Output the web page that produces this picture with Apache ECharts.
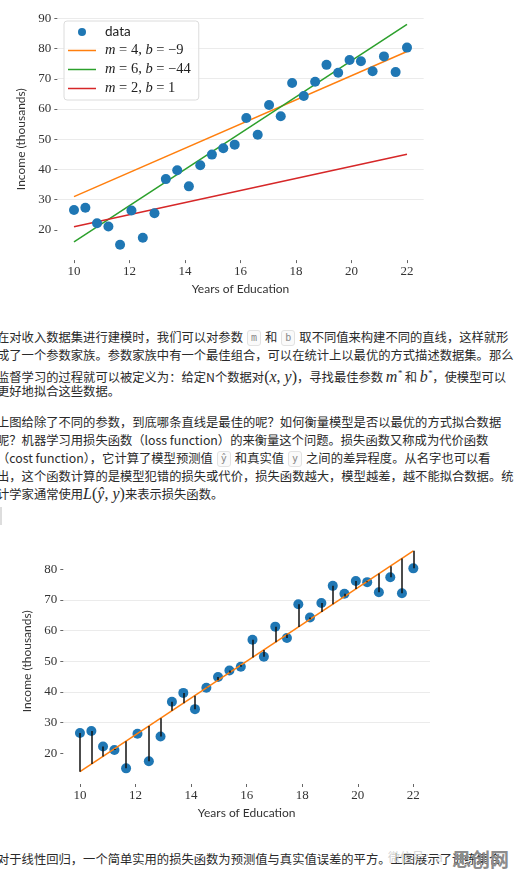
<!DOCTYPE html>
<html>
<head>
<meta charset="utf-8">
<script src="https://cdn.jsdelivr.net/npm/echarts@6/dist/echarts.min.js"></script>
<style>
html,body{margin:0;padding:0;background:#fff;}
body{width:517px;height:876px;overflow:hidden;position:relative;}
#c1{position:absolute;left:0;top:0;width:517px;height:300px;}
#c2{position:absolute;left:0;top:520px;width:517px;height:310px;}
.ln{position:absolute;left:-3px;white-space:nowrap;font-family:"Noto Sans CJK SC";font-size:12.3px;line-height:18px;height:18px;color:#2a2a2a;}
.code{display:inline-block;font-family:"DejaVu Sans Mono";font-size:10px;line-height:14px;color:#888;border:1px solid #e2e2e2;border-radius:3px;background:#fafafa;padding:0 3px;margin:0 4px;vertical-align:1px;}
.m{font-family:"Liberation Serif";font-size:16px;font-style:italic;}
.mu{font-family:"Liberation Serif";font-size:16px;}
sup{font-size:9px;}
#bar{position:absolute;left:0;top:507px;width:2px;height:18px;background:#ddd;}
#wm1{position:absolute;left:388px;top:848px;font-family:"Noto Sans CJK SC";font-size:12px;color:#d2d2d2;}
#wm2{position:absolute;left:452px;top:845px;font-family:"Noto Sans CJK SC";font-size:19px;font-weight:bold;color:#8c8c8c;letter-spacing:0px;}
</style>
</head>
<body>
<div id="c1"></div>

<div class="ln" style="top:328px">在对收入数据集进行建模时，我们可以对参数<span class="code">m</span>和<span class="code">b</span>取不同值来构建不同的直线，这样就形</div>
<div class="ln" style="top:346px">成了一个参数家族。参数家族中有一个最佳组合，可以在统计上以最优的方式描述数据集。那么</div>
<div class="ln" style="top:364px">监督学习的过程就可以被定义为：给定N个数据对<span class="mu">(<i>x</i>, <i>y</i>)</span>，寻找最佳参数 <span class="m">m<sup>*</sup></span> 和 <span class="m">b<sup>*</sup></span>，使模型可以</div>
<div class="ln" style="top:382px">更好地拟合这些数据。</div>

<div class="ln" style="top:413px">上图给除了不同的参数，到底哪条直线是最佳的呢？如何衡量模型是否以最优的方式拟合数据</div>
<div class="ln" style="top:431px">呢？机器学习用损失函数（loss function）的来衡量这个问题。损失函数又称成为代价函数</div>
<div class="ln" style="top:449px">（cost function），它计算了模型预测值<span class="code">ŷ</span>和真实值<span class="code">y</span>之间的差异程度。从名字也可以看</div>
<div class="ln" style="top:467px">出，这个函数计算的是模型犯错的损失或代价，损失函数越大，模型越差，越不能拟合数据。统</div>
<div class="ln" style="top:485px">计学家通常使用<span class="mu"><i>L</i>(<i>ŷ</i>, <i>y</i>)</span>来表示损失函数。</div>
<div id="bar"></div>

<div id="c2"></div>

<div class="ln" style="top:850px">对于线性回归，一个简单实用的损失函数为预测值与真实值误差的平方。上图展示了训练集合</div>
<div id="wm1">微信号：a</div>
<div id="wm2">思创网</div>

<script>
// ---- data ----
const years = [10.00,10.41,10.83,11.24,11.66,12.07,12.48,12.90,13.31,13.72,14.14,14.55,14.97,15.38,15.79,16.21,16.62,17.03,17.45,17.86,18.28,18.69,19.10,19.52,19.93,20.34,20.76,21.17,21.59,22.00];
const income = [26.6,27.3,22.2,21.1,15.1,26.4,17.4,25.5,36.8,39.7,34.4,41.4,44.9,47.0,48.2,57.0,51.5,61.3,57.6,68.6,64.3,69.0,74.6,72.0,76.2,75.8,72.5,77.4,72.2,80.3];
const lineX = [10, 22];
const lineOrange = [31, 79];   // m = 4, b = -9
const lineGreen = [16, 88];    // m = 6, b = -44
const lineRed = [21, 45];      // m = 2, b = 1
const fitLine = [14, 86];      // fitted line in lower chart
const fitted = [14.0,16.5,19.0,21.4,23.9,26.4,28.9,31.4,33.9,36.3,38.8,41.3,43.8,46.3,48.8,51.2,53.7,56.2,58.7,61.2,63.7,66.1,68.6,71.1,73.6,76.1,78.6,81.0,83.5,86.0];
const xTicks = [10, 12, 14, 16, 18, 20, 22];
const yTicks1 = [20, 30, 40, 50, 60, 70, 80, 90];
const yTicks2 = [20, 30, 40, 50, 60, 70, 80];
const legendNames = ['data', 'm = 4, b = −9', 'm = 6, b = −44', 'm = 2, b = 1'];

const BLUE = '#1f77b4', ORANGE = '#ff7f0e', GREEN = '#2ca02c', RED = '#d62728';
const pts = years.map((x, i) => [x, income[i]]);
const seg = ys => lineX.map((x, i) => [x, ys[i]]);
const LINE_ICON = 'path://M0,0 H56 V3 H0 Z';

function axes(yTicks, showMax, xGap, yGap) {
  return {
    xAxis: {
      type: 'value', min: 9.4, max: 22.6,
      name: 'Years of Education', nameLocation: 'middle', nameGap: xGap,
      nameTextStyle: {fontFamily: 'Lato', fontSize: 12, color: '#333'},
      axisLine: {show: false},
      axisTick: {show: true, customValues: xTicks, length: 3, lineStyle: {color: '#666'}},
      axisLabel: {customValues: xTicks, fontFamily: 'Liberation Serif', fontSize: 13, color: '#333', margin: 5},
      splitLine: {show: false}
    },
    yAxis: {
      type: 'value', min: 10, max: 90, interval: 10,
      name: 'Income (thousands)', nameLocation: 'middle', nameGap: yGap,
      nameTextStyle: {fontFamily: 'Lato', fontSize: 12, color: '#333'},
      axisLine: {show: false},
      axisTick: {show: true, customValues: yTicks, length: 3, lineStyle: {color: '#666'}},
      axisLabel: {customValues: yTicks, fontFamily: 'Liberation Serif', fontSize: 13, color: '#333', margin: 6},
      splitLine: {show: true, showMinLine: false, showMaxLine: showMax, lineStyle: {color: '#ebebeb', width: 1}}
    }
  };
}

// ---- chart 1 ----
const c1 = echarts.init(document.getElementById('c1'), null, {renderer: 'canvas'});
const a1 = axes(yTicks1, true, 12, 16);
c1.setOption({
  animation: false,
  grid: {left: 57.35, right: 93.35, top: 18.3, bottom: 39},
  xAxis: a1.xAxis, yAxis: a1.yAxis,
  legend: {
    orient: 'vertical', left: 64, top: 21,
    data: [
      {name: legendNames[0], icon: 'circle'},
      {name: legendNames[1], icon: LINE_ICON},
      {name: legendNames[2], icon: LINE_ICON},
      {name: legendNames[3], icon: LINE_ICON}
    ],
    itemWidth: 28, itemHeight: 8, itemGap: 4,
    padding: [4, 8, 4, 4],
    borderColor: '#dcdcdc', borderWidth: 1, borderRadius: 3,
    backgroundColor: 'rgba(255,255,255,0.85)',
    formatter: n => '{g|}' + (n === 'data' ? '{s|data}' : '{r|' + n.replace(/([mb])/g, '}{i|$1}{r|') + '}'),
    textStyle: {
      fontFamily: 'Liberation Serif', fontSize: 13, color: '#222', lineHeight: 14,
      rich: {
        g: {width: 4},
        s: {fontFamily: 'Lato', fontSize: 13.5, color: '#222'},
        i: {fontFamily: 'Liberation Serif', fontStyle: 'italic', fontSize: 14.5, color: '#222'},
        r: {fontFamily: 'Liberation Serif', fontSize: 14.5, color: '#222'}
      }
    }
  },
  series: [
    {name: legendNames[0], type: 'scatter', data: pts, symbolSize: 10, itemStyle: {color: BLUE, opacity: 1}, z: 3},
    {name: legendNames[1], type: 'line', data: seg(lineOrange), symbol: 'none', lineStyle: {color: ORANGE, width: 1.5}, itemStyle: {color: ORANGE}, z: 2},
    {name: legendNames[2], type: 'line', data: seg(lineGreen), symbol: 'none', lineStyle: {color: GREEN, width: 1.5}, itemStyle: {color: GREEN}, z: 2},
    {name: legendNames[3], type: 'line', data: seg(lineRed), symbol: 'none', lineStyle: {color: RED, width: 1.5}, itemStyle: {color: RED}, z: 2}
  ]
});

// ---- chart 2 ----
const c2 = echarts.init(document.getElementById('c2'), null, {renderer: 'canvas'});
const a2 = axes(yTicks2, false, 20, 21);
c2.setOption({
  animation: false,
  grid: {left: 63.3, right: 87, top: 18.6, bottom: 46},
  xAxis: a2.xAxis, yAxis: a2.yAxis,
  series: [
    {type: 'scatter', data: pts, symbolSize: 10, itemStyle: {color: BLUE, opacity: 1}, z: 2},
    {type: 'line', data: seg(fitLine), symbol: 'none', lineStyle: {color: ORANGE, width: 1.5}, z: 3},
    {type: 'lines', coordinateSystem: 'cartesian2d', z: 4,
     data: years.map((x, i) => ({coords: [[x, income[i]], [x, fitted[i]]]})),
     lineStyle: {color: '#111', width: 1.5, opacity: 1}}
  ]
});
</script>
</body>
</html>
